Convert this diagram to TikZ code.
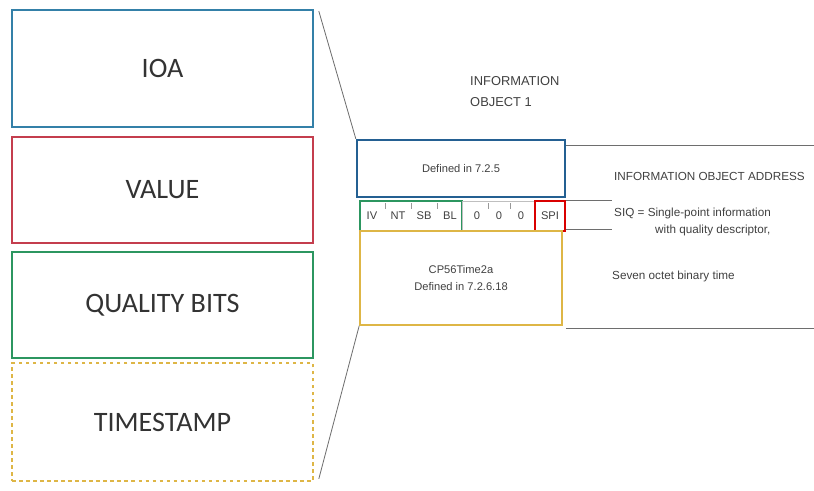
\documentclass[tikz,border=0pt]{standalone}
\usepackage{fontspec}
\setmainfont{Liberation Sans}
\newfontfamily\labelfont{Carlito}
\usetikzlibrary{positioning}
\definecolor{ioablue}{RGB}{52,128,168}
\definecolor{valred}{RGB}{196,62,78}
\definecolor{qualgreen}{RGB}{44,150,96}
\definecolor{timeyellow}{RGB}{222,182,70}
\definecolor{addrblue}{RGB}{36,96,146}
\definecolor{rulegray}{RGB}{110,110,110}
\tikzset{
  polje/.style={draw,line width=1.4pt,align=center,inner sep=0pt,
                font=\labelfont\fontsize{24}{28}\selectfont,text=black!80},
  celija/.style={draw,align=center,inner sep=0pt,
                 font=\fontsize{9.5}{15}\selectfont,text=black!75},
  opis/.style={align=left,inner sep=0pt,anchor=west,
               font=\fontsize{10}{14}\selectfont,text=black!75},
  linija/.style={line width=0.6pt,rulegray},
}

\begin{document}
\begin{tikzpicture}[x=0.03cm,y=-0.03cm]
  \useasboundingbox (0,0) rectangle (814,490);

  % ---------- LEVA POLJA ----------
  \node[polje,draw=ioablue,minimum width=9.03cm,minimum height=3.51cm]
       (ioa) at (162.5,68.5) {IOA};
  \node[polje,draw=valred,minimum width=9.03cm,minimum height=3.18cm]
       (value) at (162.5,190) {VALUE};
  \node[polje,draw=qualgreen,minimum width=9.03cm,minimum height=3.18cm]
       (quality) at (162.5,305) {QUALITY BITS};
  \node[polje,draw=timeyellow,dashed,minimum width=9.03cm,minimum height=3.54cm]
       (time) at (162.5,422) {TIMESTAMP};

  % ---------- INFORMACIONI OBJEKAT ----------
  \node[opis,font=\fontsize{11}{18}\selectfont] (naslov) at (470,92)
       {INFORMATION\\OBJECT 1};

  \node[celija,draw=addrblue,line width=2pt,minimum width=6.24cm,minimum height=1.71cm]
       (adresa) at (461,168.5) {Defined in 7.2.5};
  \node[celija,draw=qualgreen,line width=1.4pt,minimum width=3.06cm,minimum height=0.9cm]
       (kval) at (411,216) {};
  \node[celija,draw=black!25,line width=0.5pt,minimum width=2.19cm,minimum height=0.9cm]
       (nule) at (498.5,216) {};
  \node[celija,draw=red!85!black,line width=1.4pt,minimum width=0.9cm,minimum height=0.9cm]
       (spi) at (550,216) {SPI};
  \node[celija,draw=timeyellow,line width=1.4pt,minimum width=6.06cm,minimum height=2.82cm]
       (vreme) at (461,278) {CP56Time2a\\Defined in 7.2.6.18};

  % bitovi kvaliteta i nule
  \foreach \x/\t in {372/IV,398/NT,424/SB,450/BL,477/0,499/0,521/0}
    \node[celija,draw=none] at (\x,216) {\t};
  \foreach \x in {385,411,437,488,510}
    \draw[black!40,line width=0.4pt] (\x,203) -- (\x,209);

  % ---------- LINIJE DESNO ----------
  \coordinate (gore)  at (814,145);
  \coordinate (dole)  at (814,328);
  \coordinate (siqa)  at (612,200);
  \coordinate (siqb)  at (612,229);
  \draw[linija] (adresa.north east |- gore) -- (gore);
  \draw[linija] (vreme.south east |- dole) ++(3,0) -- (dole);
  \draw[linija] (spi.east |- siqa) -- (siqa);
  \draw[linija] (spi.east |- siqb) -- (siqb);

  \node[opis] (ioatekst) at (614,176) {INFORMATION OBJECT ADDRESS};
  \node[opis] (siq) at (614,213) {SIQ = Single-point information};
  \node[opis] (siq2) at (655,230) {with quality descriptor,};
  \node[opis] (sedam) at (612,276) {Seven octet binary time};

  % ---------- SPOJNE LINIJE ----------
  \draw[linija,line width=0.7pt] (ioa.north east) ++(5,2) -- (adresa.north west);
  \draw[linija,line width=0.7pt] (time.south east) ++(5,-3) -- (vreme.south west);

\end{tikzpicture}
\end{document}
